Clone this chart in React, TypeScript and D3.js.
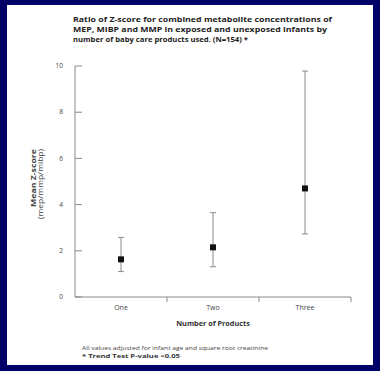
import React from "react";
import * as d3 from "d3";

const categories = ["One", "Two", "Three"];
const means = [1.63, 2.15, 4.7];
const lower = [1.1, 1.31, 2.73];
const upper = [2.58, 3.65, 9.78];
const yTicks = [0, 2, 4, 6, 8, 10];
const titleLines = [
  "Ratio of Z-score for combined metabolite concentrations of",
  "MEP, MIBP and MMP in exposed and unexposed infants by",
  "number of baby care products used.  (N=154) *",
];
const titleWidths = [259, 254, 175];

export default function App() {
  const W = 380, H = 371;
  const x = d3.scaleBand<string>().domain(categories).range([75, 351]);
  const y = d3.scaleLinear().domain([0, 10]).range([297, 66]);
  const gray = "#8a8a8a";
  const font = "'Open Sans', 'Liberation Sans', sans-serif";
  return (
    <svg width={W} height={H} style={{ position: "absolute", left: 0, top: 0 }} fontFamily={font}>
      <rect x={0} y={0} width={W} height={H} fill="#000066" />
      <rect x={7} y={5} width={366} height={360} fill="#ffffff" />
      {titleLines.map((t, i) => (
        <text key={i} x={73} y={22 + i * 10.2} fontSize={7.4} fontWeight="bold" fill="#222"
          textLength={titleWidths[i]} lengthAdjust="spacingAndGlyphs">{t}</text>
      ))}
      {/* y axis */}
      <line x1={75} x2={75} y1={y(10)} y2={y(0)} stroke={gray} strokeWidth={1} />
      {yTicks.map((t) => (
        <g key={t}>
          <line x1={75} x2={82} y1={y(t)} y2={y(t)} stroke={gray} strokeWidth={1} />
          <text x={63} y={y(t)} dy="0.35em" textAnchor="end" fontSize={6.5} fill="#444">{t}</text>
        </g>
      ))}
      {/* x axis */}
      <line x1={75} x2={351} y1={y(0)} y2={y(0)} stroke={gray} strokeWidth={1} />
      {categories.map((c) => (
        <g key={c}>
          <line x1={(x(c) as number) + x.bandwidth()} x2={(x(c) as number) + x.bandwidth()} y1={y(0)} y2={y(0) + 5} stroke={gray} strokeWidth={1} />
          <text x={(x(c) as number) + x.bandwidth() / 2} y={310} textAnchor="middle" fontSize={7} fill="#444">{c}</text>
        </g>
      ))}
      <text x={213} y={326} textAnchor="middle" fontSize={7.3} fontWeight="bold" fill="#333">Number of Products</text>
      {/* y axis title */}
      <text transform="translate(36,178) rotate(-90)" x={0} y={0} textAnchor="middle" fontSize={6.8} fontWeight="bold" fill="#444"
        textLength={58} lengthAdjust="spacingAndGlyphs">Mean Z-score</text>
      <text transform="translate(42.5,184) rotate(-90)" x={0} y={0} textAnchor="middle" fontSize={6.5} fill="#444"
        textLength={70} lengthAdjust="spacingAndGlyphs">(mep/mmp/mibp)</text>
      {/* error bars */}
      {categories.map((c, i) => {
        const cx = (x(c) as number) + x.bandwidth() / 2;
        return (
          <g key={c}>
            <line x1={cx} x2={cx} y1={y(lower[i])} y2={y(upper[i])} stroke={gray} strokeWidth={1} />
            <line x1={cx - 3} x2={cx + 3} y1={y(lower[i])} y2={y(lower[i])} stroke={gray} strokeWidth={1} />
            <line x1={cx - 3} x2={cx + 3} y1={y(upper[i])} y2={y(upper[i])} stroke={gray} strokeWidth={1} />
            <rect x={cx - 3} y={y(means[i]) - 3} width={6} height={6} fill="#111" />
          </g>
        );
      })}
      <text x={82} y={350} fontSize={5.4} fill="#444" textLength={186} lengthAdjust="spacingAndGlyphs">All values adjusted for infant age and square root creatinine</text>
      <text x={82} y={357.5} fontSize={5.4} fontWeight="bold" fill="#333" textLength={98} lengthAdjust="spacingAndGlyphs">* Trend Test P-value &lt;0.05</text>
    </svg>
  );
}
